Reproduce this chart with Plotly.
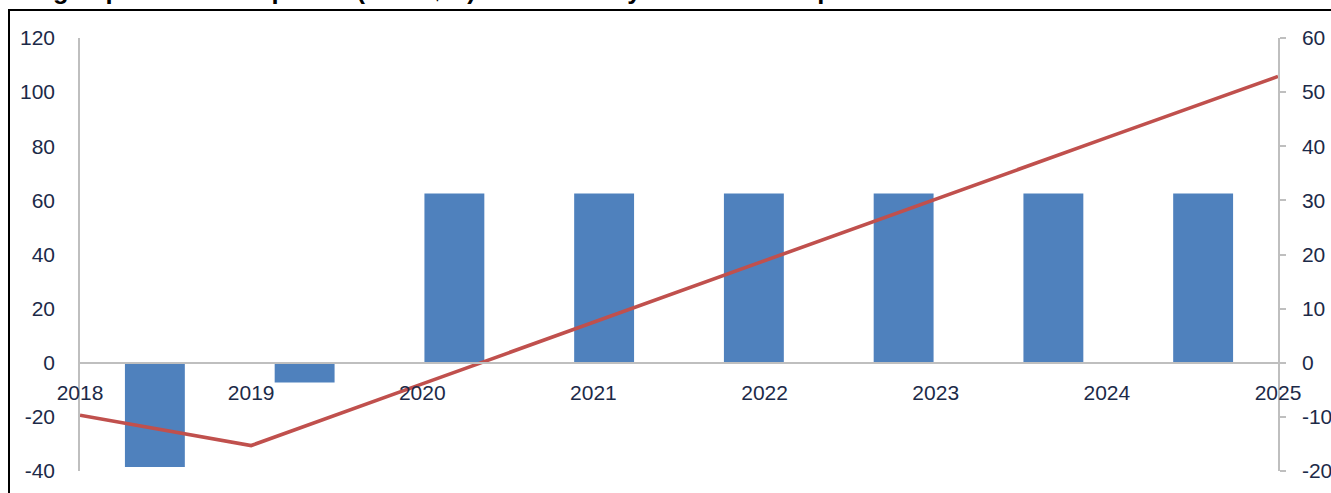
import plotly.graph_objects as go

years = ["2018", "2019", "2020", "2021", "2022", "2023", "2024", "2025"]
cash_flow = [-38.5, -7.3, 62.5, 62.5, 62.5, 62.5, 62.5, 62.5]          # bars, left axis
cumulative = [-9.7, -15.3, -3.9, 7.5, 18.9, 30.2, 41.6, 52.9]         # line, right axis
left_ticks = [-40, -20, 0, 20, 40, 60, 80, 100, 120]
right_ticks = [-20, -10, 0, 10, 20, 30, 40, 50, 60]
title = "Manginap's cash flow profile (in US$m) under the 7 year 20Mt 100ktpa scenario"

FONT = "Liberation Sans Narrow, Arial Narrow, Liberation Sans, Arial, sans-serif"
TXT = "#1C2A48"
GRID = "#BFBFBF"
FS = 21

W, H = 1331, 493
L, R, T, B = 80, 53, 38, 22
pw, ph = W - L - R, H - T - B

def px_x(x):
    return (x - L) / pw

def px_y(y):
    return (H - B - y) / ph

fig = go.Figure()
fig.add_trace(go.Bar(x=years, y=cash_flow, xaxis="x", yaxis="y",
                     marker=dict(color="#4F81BD", line=dict(width=0)), width=0.4,
                     showlegend=False))
fig.add_trace(go.Scatter(x=years, y=cumulative, xaxis="x2", yaxis="y2", mode="lines",
                         line=dict(color="#C0504D", width=3.6), showlegend=False))

fig.update_layout(
    width=W, height=H,
    margin=dict(l=L, r=R, t=T, b=B, autoexpand=False),
    paper_bgcolor="white", plot_bgcolor="rgba(0,0,0,0)",
    font=dict(family=FONT, size=FS, color=TXT),
    xaxis=dict(type="category", range=[-0.5, 7.5], anchor="y", automargin=False,
               showticklabels=False, showline=False, ticks="",
               showgrid=False, zeroline=False),
    xaxis2=dict(type="category", range=[0, 7], overlaying="x", anchor="free",
                position=0.25, showline=True, linecolor=GRID, linewidth=1.5,
                automargin=False,
                ticks="", showgrid=False, zeroline=False, ticklabelstandoff=11,
                ticklabeloverflow="allow",
                tickfont=dict(family=FONT, size=FS, color=TXT)),
    yaxis=dict(range=[-40, 120], tickvals=left_ticks,
               ticktext=[str(v) for v in left_ticks], automargin=False,
               showline=True, linecolor=GRID,
               linewidth=1.5, ticks="", showgrid=False, zeroline=False,
               ticklabelstandoff=19, tickfont=dict(family=FONT, size=FS, color=TXT)),
    yaxis2=dict(range=[-20, 60], tickvals=right_ticks,
                ticktext=[str(v) for v in right_ticks], automargin=False,
                overlaying="y", side="right",
                anchor="x", showline=True, linecolor=GRID, linewidth=1.5,
                ticks="outside", ticklen=6, tickcolor=GRID, tickwidth=1.5,
                showgrid=False, zeroline=False, ticklabelstandoff=12,
                tickfont=dict(family=FONT, size=FS, color=TXT)),
    shapes=[dict(type="rect", xref="paper", yref="paper",
                 x0=px_x(9), x1=px_x(W + 20), y0=px_y(H + 20), y1=px_y(10),
                 line=dict(color="black", width=2), layer="below")],
    annotations=[dict(text="<b>" + title + "</b>", xref="paper", yref="paper",
                      x=px_x(0), y=px_y(6), xanchor="left", yanchor="bottom",
                      showarrow=False,
                      font=dict(family="Liberation Sans, Arial, sans-serif", size=25.5,
                                color="black"))],
)

fig.write_html("out.html")
